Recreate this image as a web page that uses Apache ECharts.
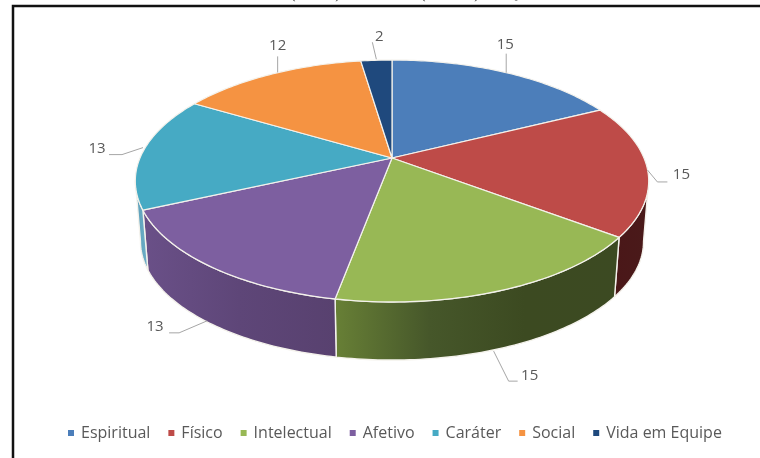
<!DOCTYPE html>
<html><head><meta charset="utf-8">
<style>html,body{margin:0;padding:0;background:#fff}#c{width:760px;height:458px}</style>
<script src="https://cdn.jsdelivr.net/npm/echarts@6/dist/echarts.min.js"></script>
</head><body><div id="c"></div>
<script>
const categories = ['Espiritual','Físico','Intelectual','Afetivo','Caráter','Social','Vida em Equipe'];
const values = [15,15,15,13,13,12,2];
const topColors = ['#4C7EBA','#BE4B48','#98B855','#7D5FA0','#46AAC4','#F59342','#1F497D'];
const sideStops = [
  ['#2A4568','#3A5F8C'],
  ['#4A1718','#4A1A1A'],
  ['#688036','#46572A','#3C4A21','#3C4A22'],
  ['#6A5088','#5E4678','#58416F'],
  ['#5A9DB8','#6FB0C8'],
  ['#8A4E1C','#B86A28'],
  ['#0E2040','#14305A']
];
// only the lower edge of the line above the frame is legible in the source
const clippedGlyphs = [['(',293],[')',338],['(',423],[')',477],['Q',512]];

const total = values.reduce((a,b)=>a+b,0);
const CX=392, CY=158, RX=252, RY=116.6, PERSP=0.19, DEPTH=61, SHRINK=0.98;
const VISIBLE_FROM=0.28, VISIBLE_TO=0.72;

function proj(frac, lower){
  const t=frac*2*Math.PI, u=Math.sin(t), v=-Math.cos(t), w=1-PERSP*v;
  const s=lower?SHRINK:1;
  return [CX+RX*u/w*s, CY+(lower?DEPTH:0)+RY*v/w*s];
}
function arc(a,b,lower){
  const n=Math.max(2,Math.ceil((b-a)*360)), pts=[];
  for(let i=0;i<=n;i++) pts.push(proj(a+(b-a)*i/n,lower));
  return pts;
}
const starts=[]; values.reduce((acc,v,i)=>(starts[i]=acc,acc+v),0);

const series=[];
series.push({
  type:'custom', name:'__side', coordinateSystem:'none', silent:true, z:1,
  data:values, renderItem(p){
    const i=p.dataIndex, a=starts[i]/total, b=(starts[i]+values[i])/total;
    const lo=Math.max(a,VISIBLE_FROM), hi=Math.min(b,VISIBLE_TO);
    if(hi<=lo) return {type:'group',children:[]};
    const top=arc(lo,hi,false), bot=arc(lo,hi,true).reverse();
    const stops=sideStops[i].map((color,k,all)=>({offset:k/(all.length-1),color}));
    const g=new echarts.graphic.LinearGradient(0,0,1,0,stops);
    return {type:'polygon',shape:{points:top.concat(bot)},
      style:{fill:g,stroke:'#F4F2EC',lineWidth:1.4,lineJoin:'round'}};
  }
});
categories.forEach((name,i)=>{
  series.push({
    type:'custom', name, coordinateSystem:'none', silent:true, z:2,
    itemStyle:{color:topColors[i]}, data:[values[i]],
    renderItem(){
      const a=starts[i]/total, b=(starts[i]+values[i])/total;
      return {type:'polygon',shape:{points:[[CX,CY]].concat(arc(a,b,false))},
        style:{fill:topColors[i],stroke:'#F4F2EC',lineWidth:1.2,lineJoin:'round'}};
    }
  });
});
// label placement relative to the middle of each slice's rim
const labelPlace=[
 {line:[[0,0],[0,-19]],text:[-1,-28],lower:false},
 {line:[[0,1],[10,13],[20,13]],text:[34,6],lower:false},
 {line:[[-9,0],[6,30],[15,30]],text:[27,25],lower:true},
 {line:[[-2,-6],[-30,6],[-40,6]],text:[-54,0],lower:true},
 {line:[[0,-4],[-21,3],[-34,3]],text:[-46,-3],lower:false},
 {line:[[7,-2],[7,-18]],text:[7,-29],lower:false},
 {line:[[0,-1],[-4,-18]],text:[3,-24],lower:false}
];
series.push({
  type:'custom', name:'__labels', coordinateSystem:'none', silent:true, z:3,
  data:values, renderItem(p){
    const i=p.dataIndex, mid=(starts[i]+values[i]/2)/total, L=labelPlace[i];
    let a=proj(mid,false);
    if(L.lower) a=[a[0],a[1]+DEPTH];
    return {type:'group',children:[
      {type:'polyline',shape:{points:L.line.map(q=>[a[0]+q[0],a[1]+q[1]])},
        style:{stroke:'#A6A6A6',lineWidth:1,fill:null}},
      {type:'text',x:a[0]+L.text[0],y:a[1]+L.text[1],
        style:{text:String(values[i]),fill:'#595959',font:'15px "Open Sans", "Noto Sans", sans-serif',align:'center',verticalAlign:'middle'}}
    ]};
  }
});

const chart=echarts.init(document.getElementById('c'),null,{renderer:'canvas'});
chart.setOption({
  animation:false, backgroundColor:'#fff',
  graphic:[
    {type:'rect',shape:{x:13,y:6,width:790,height:500},style:{fill:'#fff',stroke:'#111',lineWidth:2.5},z:0}
  ].concat(clippedGlyphs.map(([g,x])=>({type:'text',x,y:-14,z:0,
    style:{text:g,fill:'#333',font:'16px "Liberation Serif", serif',align:'center'}}))),
  legend:{show:true,top:425,left:68,data:categories,icon:'rect',itemWidth:6,itemHeight:6,itemGap:18,padding:0,
    textStyle:{color:'#595959',fontSize:16,fontFamily:'"Open Sans","Noto Sans",sans-serif',padding:[0,0,0,2]}},
  series
});
</script></body></html>
